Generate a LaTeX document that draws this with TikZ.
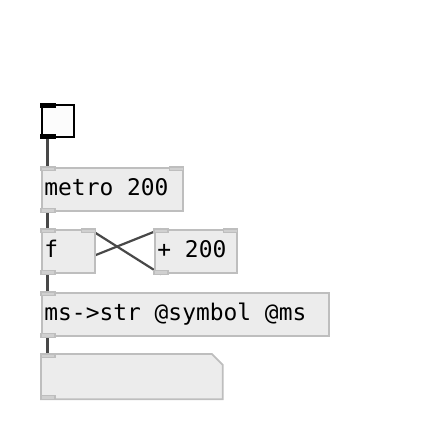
\documentclass[tikz,border=0pt]{standalone}
\usepackage{fontspec}
\setmonofont{DejaVu Sans Mono}
\usetikzlibrary{calc, backgrounds}
\definecolor{boxfill}{RGB}{236,236,236}
\definecolor{boxline}{RGB}{190,190,190}
\definecolor{portfill}{RGB}{208,208,208}
\definecolor{wire}{RGB}{72,72,72}
\definecolor{bangfill}{RGB}{252,252,252}

% fixed-pitch blank, one character wide
\newcommand{\pdsp}{\hspace*{0.602em}}

\tikzset{
  pdobj/.style={draw=boxline, fill=boxfill, line width=1.8pt, rectangle,
    anchor=north west, inner xsep=2.5pt, inner ysep=0pt, text width=#1,
    align=left, text height=17pt, text depth=5pt, minimum height=43.5pt,
    font=\ttfamily\fontsize{22.9}{28}\selectfont},
  pdport/.style={draw=boxline, fill=portfill, line width=1.2pt},
  pdwire/.style={draw=wire, line width=2.2pt},
  bangport/.style={fill=black}
}

\begin{document}
\begin{tikzpicture}[x=1pt, y=1pt]
  \useasboundingbox (0,0) rectangle (421,432);

  % boxes
  \node[draw=black, fill=bangfill, line width=2pt, anchor=north west,
        minimum size=32pt, inner sep=0pt] (bng) at (41,328) {};
  \node[pdobj=135.7pt] (metro) at (41,265) {metro\pdsp 200};
  \node[pdobj=48pt] (flt) at (41,203) {f};
  \node[pdobj=77pt] (plus) at (154,203) {+\pdsp 200};
  \node[pdobj=281.7pt] (conv) at (41,140) {ms->str\pdsp @symbol\pdsp @ms};
  \node[pdobj=175pt, draw=none, fill=none] (sym) at (41,78) {};
  \draw[draw=boxline, fill=boxfill, line width=1.8pt]
    (sym.south west) -- (sym.north west) -- ($(sym.north east)+(-11,0)$)
    -- ($(sym.north east)+(0,-11)$) -- (sym.south east) -- cycle;

  % wires
  \begin{scope}[on background layer]
    \draw[pdwire] ($(bng.south west)+(6.5,0)$) -- ($(metro.north west)+(6.5,0)$);
    \draw[pdwire] ($(metro.south west)+(6.5,0)$) -- ($(flt.north west)+(6.5,0)$);
    \draw[pdwire] ($(flt.south west)+(6.5,0)$) -- ($(plus.north west)+(7,0)$);
    \draw[pdwire] ($(plus.south west)+(7,0)$) -- ($(flt.north east)+(-6.5,0)$);
    \draw[pdwire] ($(flt.south west)+(6.5,0)$) -- ($(conv.north west)+(6.5,0)$);
    \draw[pdwire] ($(conv.south west)+(6.5,0)$) -- ($(sym.north west)+(6.5,0)$);
  \end{scope}

  % inlets and outlets
  \fill[bangport] ($(bng.north west)+(-1,1)$) rectangle ++(16,-5);
  \fill[bangport] ($(bng.south west)+(-1,-1)$) rectangle ++(16,5);
  \foreach \obj in {metro, flt, plus} {
    \draw[pdport] (\obj.north west) rectangle ++(14,-3.5);
    \draw[pdport] (\obj.north east) rectangle ++(-14,-3.5);
    \draw[pdport] (\obj.south west) rectangle ++(14,3.5);
  }
  \foreach \obj in {conv, sym} {
    \draw[pdport] (\obj.north west) rectangle ++(14,-3.5);
    \draw[pdport] (\obj.south west) rectangle ++(14,3.5);
  }
\end{tikzpicture}
\end{document}
